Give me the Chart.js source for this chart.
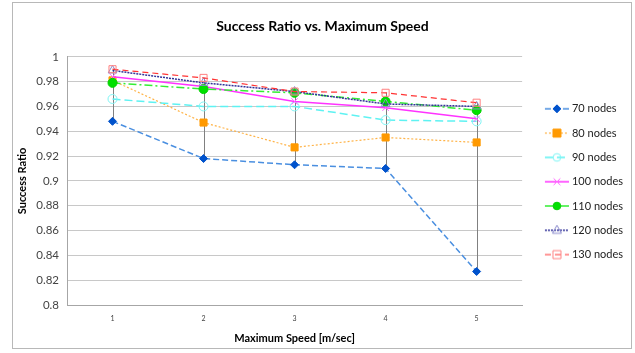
<!DOCTYPE html>
<html>
<head>
<meta charset="utf-8">
<script src="https://cdn.jsdelivr.net/npm/chart.js@4/dist/chart.umd.min.js"></script>
<style>
  html, body { margin: 0; padding: 0; background: #fff; }
  #wrap { width: 635px; height: 353px; }
</style>
</head>
<body>
<div id="wrap"><canvas id="ratio" width="635" height="353"></canvas></div>
<script>
const speeds = ['1', '2', '3', '4', '5'];
const nodes70 = [0.948, 0.918, 0.913, 0.910, 0.827];
const nodes80 = [0.981, 0.947, 0.927, 0.935, 0.931];
const nodes90 = [0.966, 0.960, 0.960, 0.949, 0.948];
const nodes100 = [0.984, 0.976, 0.964, 0.959, 0.950];
const nodes110 = [0.979, 0.974, 0.971, 0.964, 0.957];
const nodes120 = [0.989, 0.979, 0.972, 0.962, 0.960];
const nodes130 = [0.990, 0.983, 0.972, 0.971, 0.963];
const yTicks = [0.8, 0.82, 0.84, 0.86, 0.88, 0.9, 0.92, 0.94, 0.96, 0.98, 1];

const font = 'Lato, "Open Sans", sans-serif';

// line + marker look of each series
const looks = [
  { label: '70 nodes', data: nodes70, line: '#4a8fe0', dash: [6, 3], width: 1.5, marker: 'rectRot', fill: '#0052cc', edge: '#0052cc', r: 4 },
  { label: '80 nodes', data: nodes80, line: '#ffb347', dash: [2, 2], width: 1.2, marker: 'rect', fill: '#ff9900', edge: '#ff9900', r: 5 },
  { label: '90 nodes', data: nodes90, line: '#5ef2f2', dash: [8, 4], width: 1.5, marker: 'circle', fill: 'rgba(0,0,0,0)', edge: '#7ff5f5', r: 4.5 },
  { label: '100 nodes', data: nodes100, line: '#ff33ff', dash: [], width: 1.5, marker: 'crossRot', fill: '#ff66ff', edge: '#ff66ff', r: 4.5 },
  { label: '110 nodes', data: nodes110, line: '#33ee33', dash: [8, 3, 2, 3], width: 1.5, marker: 'circle', fill: '#00e000', edge: '#00d000', r: 4.5 },
  { label: '120 nodes', data: nodes120, line: '#333399', dash: [2, 1], width: 1.5, marker: 'triangle', fill: 'rgba(0,0,0,0)', edge: '#8a8acc', r: 5 },
  { label: '130 nodes', data: nodes130, line: '#ff3333', dash: [6, 4], width: 1.2, marker: 'rect', fill: 'rgba(0,0,0,0)', edge: '#ff8080', r: 5 }
];

function markerPath(g, kind, cx, cy, r) {
  g.beginPath();
  if (kind === 'rectRot') {
    g.moveTo(cx, cy - r); g.lineTo(cx + r, cy); g.lineTo(cx, cy + r); g.lineTo(cx - r, cy); g.closePath();
  } else if (kind === 'rect') {
    const h = r * 0.8;
    g.rect(cx - h, cy - h, h * 2, h * 2);
  } else if (kind === 'circle') {
    g.arc(cx, cy, r * 0.85, 0, Math.PI * 2);
  } else if (kind === 'triangle') {
    g.moveTo(cx, cy - r); g.lineTo(cx + r * 0.9, cy + r * 0.6); g.lineTo(cx - r * 0.9, cy + r * 0.6); g.closePath();
  } else if (kind === 'crossRot') {
    const h = r * 0.75;
    g.moveTo(cx - h, cy - h); g.lineTo(cx + h, cy + h);
    g.moveTo(cx + h, cy - h); g.lineTo(cx - h, cy + h);
  }
}

// legend sample: blank left margin, then a short line with the marker on it
function legendIcon(s) {
  const c = document.createElement('canvas');
  c.width = 36; c.height = 12;
  const g = c.getContext('2d');
  g.strokeStyle = s.line; g.lineWidth = s.width; g.setLineDash(s.dash);
  g.beginPath(); g.moveTo(12, 6); g.lineTo(36, 6); g.stroke();
  g.setLineDash([]);
  markerPath(g, s.marker, 24, 6, s.r);
  g.fillStyle = s.fill; g.strokeStyle = s.edge; g.lineWidth = 1;
  if (s.marker !== 'crossRot') g.fill();
  g.stroke();
  return c;
}

const frame = {
  id: 'frame',
  beforeDraw(chart) {
    const { ctx } = chart;
    ctx.save();
    ctx.fillStyle = '#fff';
    ctx.fillRect(0, 0, chart.width, chart.height);
    ctx.strokeStyle = '#b8b8b8';
    ctx.lineWidth = 1;
    ctx.strokeRect(12.5, 2.5, 619, 346);
    ctx.restore();
  }
};

// gray high-low lines at every speed
const highLow = {
  id: 'highLow',
  beforeDatasetsDraw(chart) {
    const { ctx, scales: { x, y } } = chart;
    ctx.save();
    ctx.strokeStyle = '#808080';
    ctx.lineWidth = 1;
    speeds.forEach((s, i) => {
      const vals = chart.data.datasets.map(d => d.data[i]);
      const px = Math.round(x.getPixelForValue(i)) + 0.5;
      ctx.beginPath();
      ctx.moveTo(px, y.getPixelForValue(Math.max(...vals)));
      ctx.lineTo(px, y.getPixelForValue(Math.min(...vals)));
      ctx.stroke();
    });
    ctx.restore();
  }
};

new Chart(document.getElementById('ratio'), {
  type: 'line',
  data: {
    labels: speeds,
    datasets: looks.map((s, i) => ({
      label: s.label,
      data: s.data,
      order: looks.length - i,
      borderColor: s.line,
      borderWidth: s.width,
      borderDash: s.dash,
      fill: false,
      tension: 0,
      pointStyle: s.marker,
      pointRadius: s.r,
      pointBackgroundColor: s.fill,
      pointBorderColor: s.edge,
      pointBorderWidth: 1
    }))
  },
  options: {
    responsive: false,
    animation: false,
    layout: { padding: { left: 12, right: 2, top: 6, bottom: 4 } },
    plugins: {
      title: {
        display: true,
        text: 'Success Ratio vs. Maximum Speed',
        color: '#000',
        font: { family: font, size: 14, weight: 'bold' },
        padding: { top: 12, bottom: 22 }
      },
      legend: {
        position: 'right',
        title: { display: true, text: ' ', font: { size: 2 }, padding: 3 },
        labels: {
          usePointStyle: true,
          pointStyleWidth: 31,
          padding: 13.3,
          color: '#222',
          font: { family: font, size: 11 },
          generateLabels: chart => looks.map((s, i) => ({
            text: s.label,
            pointStyle: legendIcon(s),
            fontColor: '#222',
            lineWidth: 0,
            hidden: false,
            datasetIndex: i
          }))
        }
      },
      tooltip: { enabled: false }
    },
    scales: {
      x: {
        offset: true,
        grid: { display: false, drawTicks: false },
        border: { display: true, color: '#a6a6a6' },
        ticks: { color: '#444', font: { family: font, size: 7 }, padding: 10 },
        title: {
          display: true,
          text: 'Maximum Speed [m/sec]',
          color: '#000',
          font: { family: font, size: 11, weight: 'bold' },
          padding: { top: 4, bottom: 4 }
        },
        afterFit: scale => { scale.height = 44; }
      },
      y: {
        min: 0.8,
        max: 1,
        afterBuildTicks: scale => { scale.ticks = yTicks.map(v => ({ value: v })); },
        grid: { color: '#c8c8c8', drawTicks: false },
        border: { display: true, color: '#a6a6a6' },
        ticks: {
          color: '#444',
          font: { family: font, size: 11.5 },
          padding: 8,
          callback: v => String(Math.round(v * 100) / 100)
        },
        title: {
          display: true,
          text: 'Success Ratio',
          color: '#000',
          font: { family: font, size: 11, weight: 'bold' },
          padding: { top: 4, bottom: 4 }
        },
        afterFit: scale => { scale.width = 55; }
      }
    }
  },
  plugins: [frame, highLow]
});
</script>
</body>
</html>
